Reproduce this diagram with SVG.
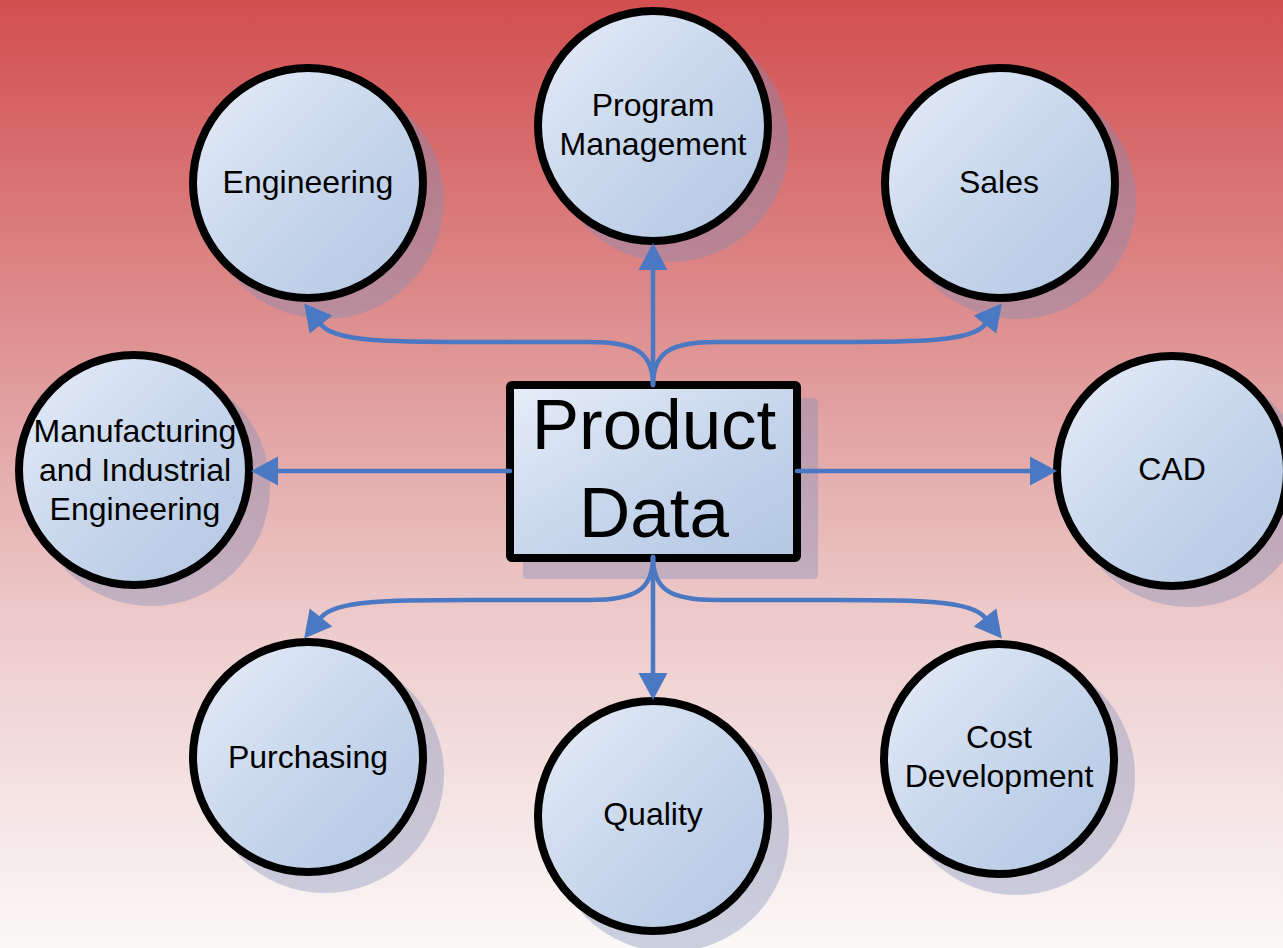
<svg xmlns="http://www.w3.org/2000/svg" width="1283" height="948" viewBox="0 0 1283 948">
<defs>
<linearGradient id="bg" x1="0" y1="0" x2="0" y2="1">
<stop offset="0" stop-color="#D24E4F"/>
<stop offset="0.35" stop-color="#DE9191"/>
<stop offset="0.65" stop-color="#EDCACA"/>
<stop offset="1" stop-color="#FBF8F8"/>
</linearGradient>
<linearGradient id="nodeFill" x1="0" y1="0" x2="1" y2="1">
<stop offset="0" stop-color="#E6EDF8"/>
<stop offset="0.6" stop-color="#C3D3EA"/>
<stop offset="1" stop-color="#B3C7E2"/>
</linearGradient>
<marker id="arrow" markerUnits="userSpaceOnUse" markerWidth="30" markerHeight="32" refX="0" refY="0" viewBox="0 -16 30 32" orient="auto" overflow="visible">
<path d="M0,-14.5 L27,0 L0,14.5 Z" fill="#4A78C2"/>
</marker>
<style>
.shadow{fill:#7F8FB8;fill-opacity:0.38}
.circ{fill:url(#nodeFill);stroke:#000;stroke-width:8}
.box{fill:url(#nodeFill);stroke:#000;stroke-width:8}
.lbl{font-family:"Liberation Sans",Arial,sans-serif;font-size:32px;fill:#000;text-anchor:middle}
.big{font-family:"Liberation Sans",Arial,sans-serif;font-size:71px;fill:#000;text-anchor:middle}
.conn{fill:none;stroke:#4A78C2;stroke-width:4.5;stroke-linecap:round;marker-end:url(#arrow)}
</style>
</defs>
<rect x="0" y="0" width="1283" height="948" fill="url(#bg)"/>

<g id="node-engineering">
<circle class="shadow" cx="325" cy="200" r="119"/>
<circle class="circ" cx="308" cy="183" r="115"/>
<text class="lbl" x="308" y="193">Engineering</text>
</g>
<g id="node-program-management">
<circle class="shadow" cx="670" cy="143" r="119"/>
<circle class="circ" cx="653" cy="126" r="115"/>
<text class="lbl" x="653" y="116">Program</text>
<text class="lbl" x="653" y="155">Management</text>
</g>
<g id="node-sales">
<circle class="shadow" cx="1017" cy="200" r="119"/>
<circle class="circ" cx="1000" cy="183" r="115"/>
<text class="lbl" x="999" y="193">Sales</text>
</g>
<g id="node-manufacturing">
<circle class="shadow" cx="151" cy="487" r="119"/>
<circle class="circ" cx="134" cy="470" r="115"/>
<text class="lbl" x="135" y="442">Manufacturing</text>
<text class="lbl" x="135" y="481">and Industrial</text>
<text class="lbl" x="135" y="520">Engineering</text>
</g>
<g id="node-cad">
<circle class="shadow" cx="1189" cy="488" r="119"/>
<circle class="circ" cx="1172" cy="471" r="115"/>
<text class="lbl" x="1172" y="480">CAD</text>
</g>
<g id="node-purchasing">
<circle class="shadow" cx="325" cy="774" r="119"/>
<circle class="circ" cx="308" cy="757" r="115"/>
<text class="lbl" x="308" y="768">Purchasing</text>
</g>
<g id="node-quality">
<circle class="shadow" cx="670" cy="833" r="119"/>
<circle class="circ" cx="653" cy="816" r="115"/>
<text class="lbl" x="653" y="825">Quality</text>
</g>
<g id="node-cost-development">
<circle class="shadow" cx="1016" cy="776" r="119"/>
<circle class="circ" cx="999" cy="759" r="115"/>
<text class="lbl" x="999" y="748">Cost</text>
<text class="lbl" x="999" y="787">Development</text>
</g>
<g id="node-product-data">
<rect class="shadow" x="523" y="398" width="295" height="181" rx="4"/>
<rect class="box" x="510" y="385" width="287" height="173" rx="2"/>
<text class="big" x="654" y="449">Product</text>
<text class="big" x="654" y="537">Data</text>
</g>

<g id="connectors">
<path class="conn" d="M653,385 V270"/>
<path class="conn" d="M653,385 C653,352 635,342 590,342 L470,342 C390,342 335,342 321,324.5"/>
<path class="conn" d="M653,385 C653,352 671,342 716,342 L836,342 C916,342 971,342 985,324.5"/>
<path class="conn" d="M510,471 H278"/>
<path class="conn" d="M797,471 H1030"/>
<path class="conn" d="M653,557 V673"/>
<path class="conn" d="M653,557 C653,590 635,600 590,600 L470,600 C390,600 335,600 321,617.5"/>
<path class="conn" d="M653,557 C653,590 671,600 716,600 L836,600 C916,600 971,600 985,617.5"/>
</g>
</svg>
